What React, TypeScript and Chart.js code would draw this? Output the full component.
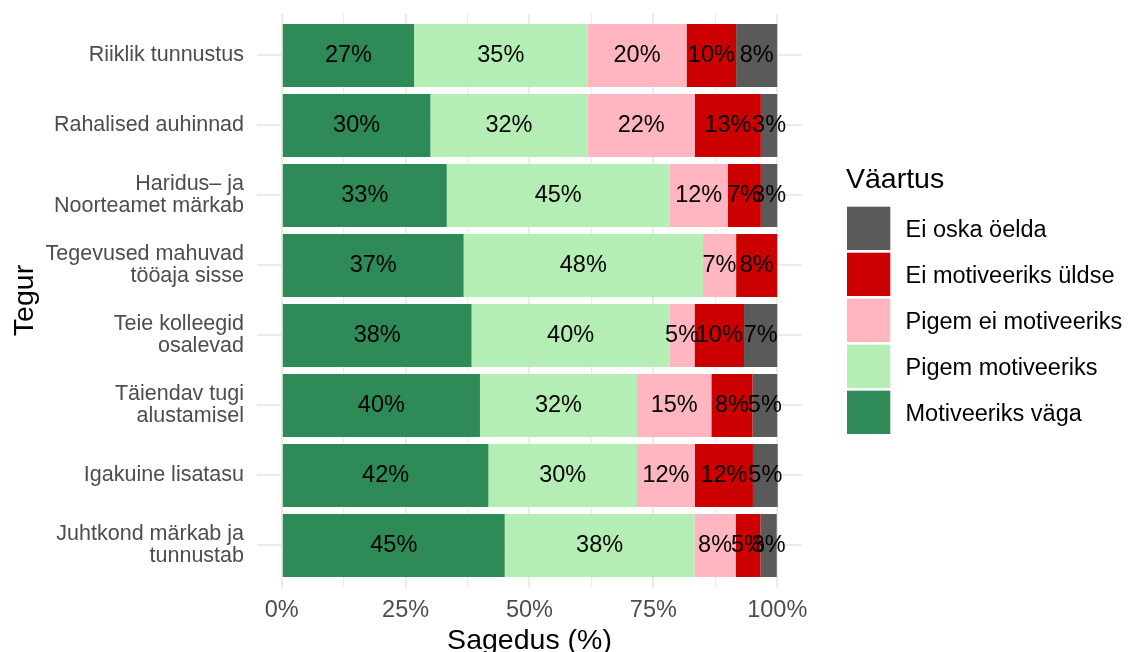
import React, { useEffect, useRef } from 'react';
import { Chart, registerables } from 'chart.js';

Chart.register(...registerables);

const FONT = "'Liberation Sans', Arial, Helvetica, sans-serif";

// ---- data ----
const categories = [
  'Riiklik tunnustus',
  'Rahalised auhinnad',
  'Haridus– ja\nNoorteamet märkab',
  'Tegevused mahuvad\ntööaja sisse',
  'Teie kolleegid\nosalevad',
  'Täiendav tugi\nalustamisel',
  'Igakuine lisatasu',
  'Juhtkond märkab ja\ntunnustab',
];

const seriesNames = [
  'Motiveeriks väga',
  'Pigem motiveeriks',
  'Pigem ei motiveeriks',
  'Ei motiveeriks üldse',
  'Ei oska öelda',
];
const seriesColors = ['#2E8B57', '#B4EEB4', '#FFB6C1', '#CD0000', '#5A5A5A'];

const motiveeriksVaga = [26.7, 30.0, 33.3, 36.7, 38.3, 40.0, 41.7, 45.0];
const pigemMotiveeriks = [35.0, 31.7, 45.0, 48.3, 40.0, 31.7, 30.0, 38.3];
const pigemEiMotiveeriks = [20.0, 21.7, 11.7, 6.7, 5.0, 15.0, 11.7, 8.3];
const eiMotiveeriksUldse = [10.0, 13.3, 6.7, 8.3, 10.0, 8.3, 11.7, 5.0];
const eiOskaOelda = [8.3, 3.3, 3.3, 0, 6.7, 5.0, 5.0, 3.3];

const seriesValues = [motiveeriksVaga, pigemMotiveeriks, pigemEiMotiveeriks, eiMotiveeriksUldse, eiOskaOelda];

const xMajorTicks = [0, 25, 50, 75, 100];
const xMinorTicks = [12.5, 37.5, 62.5, 87.5];

const xTitle = 'Sagedus (%)';
const yTitle = 'Tegur';
const legendTitle = 'Väartus';

// ---- plugins ----
const segmentLabels = {
  id: 'segmentLabels',
  afterDatasetsDraw(chart: any) {
    const ctx = chart.ctx;
    ctx.save();
    ctx.font = `23.5px ${FONT}`;
    ctx.fillStyle = '#000000';
    ctx.textAlign = 'center';
    ctx.textBaseline = 'middle';
    chart.data.datasets.forEach((ds: any, di: number) => {
      const meta = chart.getDatasetMeta(di);
      meta.data.forEach((el: any, i: number) => {
        const v = ds.data[i].x;
        if (!v) return;
        const { x, y, base } = el.getProps(['x', 'y', 'base'], true);
        ctx.fillText(Math.round(v) + '%', (x + base) / 2, y + 0.5);
      });
    });
    ctx.restore();
  },
};

const sideLegend = {
  id: 'sideLegend',
  afterDraw(chart: any) {
    const ctx = chart.ctx;
    ctx.save();
    ctx.textAlign = 'left';
    ctx.textBaseline = 'alphabetic';
    ctx.fillStyle = '#000000';
    ctx.font = `28.5px ${FONT}`;
    ctx.fillText(legendTitle, 846, 188);
    ctx.font = `23.5px ${FONT}`;
    const order = seriesNames.map((_, i) => i).reverse();
    order.forEach((si, k) => {
      const top = 206.7 + 46 * k;
      ctx.fillStyle = seriesColors[si];
      ctx.fillRect(847, top, 43.3, 43.3);
      ctx.fillStyle = '#000000';
      ctx.fillText(seriesNames[si], 905.5, top + 30.6);
    });
    ctx.restore();
  },
};

const zeroPadding = (scale: any) => {
  scale.paddingTop = 0;
  scale.paddingBottom = 0;
  scale.paddingLeft = 0;
  scale.paddingRight = 0;
};

export default function App() {
  const canvasRef = useRef<HTMLCanvasElement | null>(null);

  useEffect(() => {
    document.body.style.margin = '0';
    const canvas = canvasRef.current;
    if (!canvas) return;

    const datasets = seriesNames.map((name, si) => ({
      label: name,
      data: seriesValues[si].map((v, i) => ({ x: v, y: i })),
      backgroundColor: seriesColors[si],
      borderWidth: 0,
      categoryPercentage: 0.9,
      barPercentage: 1.0,
    }));

    const chart = new Chart(canvas, {
      type: 'bar',
      data: { datasets },
      plugins: [segmentLabels, sideLegend],
      options: {
        indexAxis: 'y',
        animation: false,
        responsive: false,
        devicePixelRatio: 1,
        layout: { padding: { left: 0, right: 328, top: 13.5, bottom: 0 } },
        plugins: {
          legend: { display: false },
          tooltip: { enabled: false },
        },
        scales: {
          x: {
            type: 'linear',
            stacked: true,
            offset: false,
            min: -5,
            max: 105,
            afterBuildTicks: (scale: any) => {
              scale.ticks = [...xMajorTicks, ...xMinorTicks]
                .sort((a, b) => a - b)
                .map((v) => ({ value: v }));
            },
            afterFit: (scale: any) => {
              scale.height = 64.5;
              zeroPadding(scale);
            },
            border: { display: false },
            grid: {
              offset: false,
              color: '#EBEBEB',
              lineWidth: (c: any) => (xMajorTicks.includes(c.tick?.value) ? 2.1 : 1.05),
              drawTicks: false,
            },
            ticks: {
              autoSkip: false,
              maxRotation: 0,
              padding: 8.5,
              color: '#4D4D4D',
              font: { family: FONT, size: 23.5 },
              callback: (v: any) => (xMajorTicks.includes(v) ? v + '%' : ''),
            },
            title: {
              display: true,
              text: xTitle,
              color: '#000000',
              font: { family: FONT, size: 28.5, lineHeight: 0.76 },
              padding: { top: 0, bottom: 0 },
            },
          },
          y: {
            type: 'linear',
            stacked: true,
            reverse: true,
            offset: false,
            min: -0.6,
            max: categories.length - 1 + 0.6,
            afterBuildTicks: (scale: any) => {
              scale.ticks = categories.map((_, i) => ({ value: i }));
            },
            afterFit: (scale: any) => {
              scale.width = 257;
              zeroPadding(scale);
            },
            border: { display: false },
            grid: {
              offset: false,
              color: '#EBEBEB',
              lineWidth: 2.1,
              drawTicks: false,
            },
            ticks: {
              autoSkip: false,
              padding: 13,
              color: '#4D4D4D',
              font: { family: FONT, size: 21.5, lineHeight: 22 / 21.5 },
              callback: (v: any) => {
                const s = categories[v];
                return s ? s.split('\n') : '';
              },
            },
            title: {
              display: true,
              text: yTitle,
              color: '#000000',
              font: { family: FONT, size: 28.5, lineHeight: 1 },
              padding: { top: 11, bottom: 0 },
            },
          },
        },
      } as any,
    });

    return () => chart.destroy();
  }, []);

  return (
    <div style={{ width: 1130, height: 652, position: 'relative', background: '#ffffff' }}>
      <canvas ref={canvasRef} width={1130} height={652} style={{ display: 'block' }} />
    </div>
  );
}
